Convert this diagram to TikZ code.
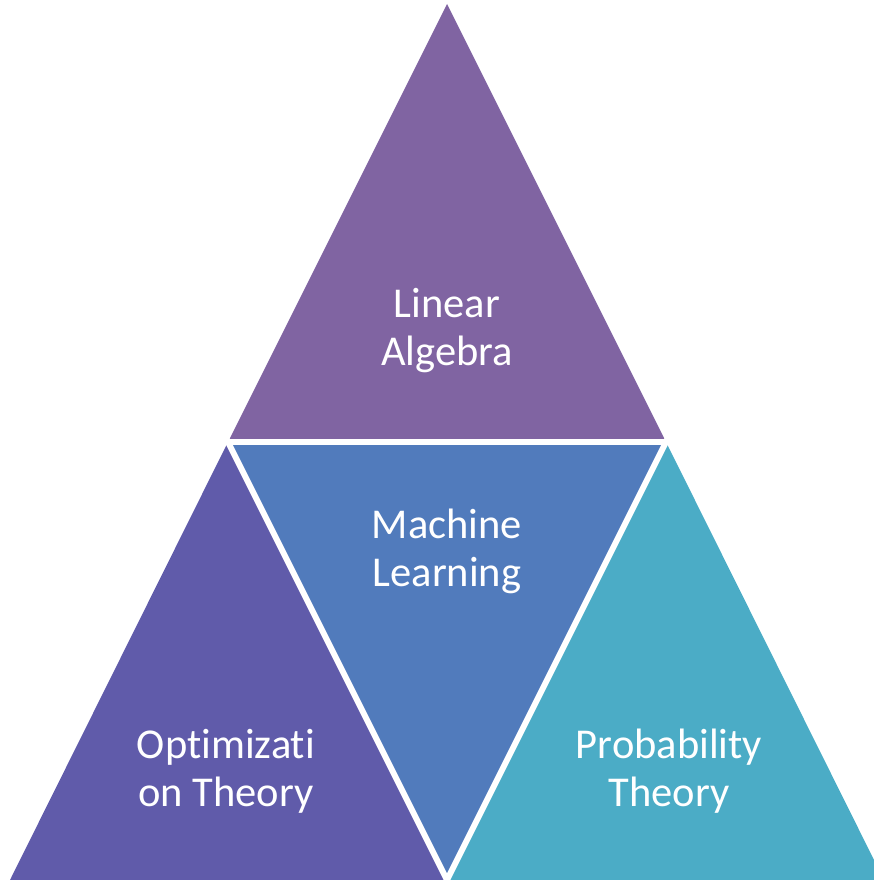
\documentclass[tikz,border=0pt]{standalone}
\usepackage{fontspec}
\setmainfont[Ligatures=NoCommon]{Carlito}
\usetikzlibrary{calc}
\definecolor{topc}{RGB}{128,100,162}
\definecolor{midc}{RGB}{81,123,188}
\definecolor{leftc}{RGB}{96,91,170}
\definecolor{rightc}{RGB}{75,172,198}
\tikzset{
  lbl/.style={text=white, align=center, font=\fontsize{42.5}{48}\selectfont, inner sep=0pt},
  gapline/.style={white, line width=6pt, line cap=butt, line join=miter}
}
\begin{document}
\begin{tikzpicture}[x=1pt,y=-1pt]
\useasboundingbox (0,0) rectangle (874,880);
\clip (0,0) rectangle (874,880);
\coordinate (A) at (447,4);
\coordinate (L) at (228,442);
\coordinate (R) at (666,442);
\coordinate (BL) at (10,880);
\coordinate (BR) at (884,880);
\coordinate (BM) at (447,880);
\fill[topc] (A) -- (R) -- (L) -- cycle;
\fill[leftc] (L) -- (BM) -- (BL) -- cycle;
\fill[midc] (L) -- (R) -- (BM) -- cycle;
\fill[rightc] (R) -- (BR) -- (BM) -- cycle;
\draw[gapline] ($(L)+(-20,0)$) -- ($(R)+(20,0)$);
\draw[gapline] ($(L)!-0.05!(BM)$) -- ($(L)!1.05!(BM)$);
\draw[gapline] ($(R)!-0.05!(BM)$) -- ($(R)!1.05!(BM)$);
\node[lbl, anchor=base] (la) at (447,365) {Linear\\Algebra};
\node[lbl, anchor=base] (ml) at (447,586) {Machine\\Learning};
\node[lbl, anchor=base] (ot) at (226,806) {Optimizati\\on Theory};
\node[lbl, anchor=base] (pt) at (669,806) {Probability\\Theory};
\end{tikzpicture}
\end{document}
